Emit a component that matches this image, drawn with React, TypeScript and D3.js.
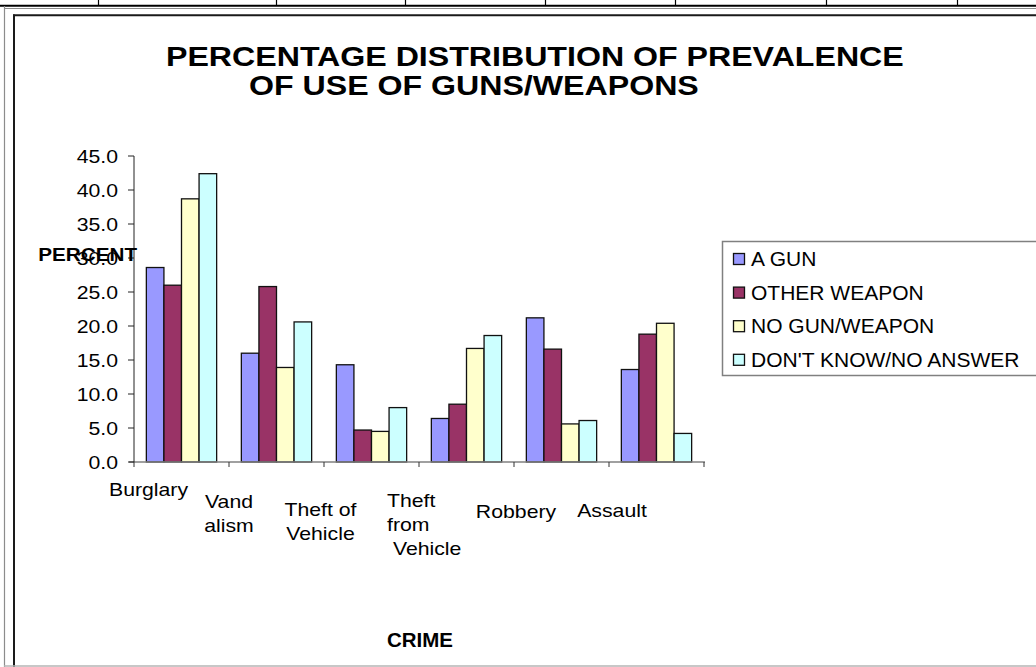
import React from "react";
import * as d3 from "d3";

// Crime categories, each split into the lines shown under the axis
const categories = ["Burglary", "Vandalism", "Theft of Vehicle", "Theft from Vehicle", "Robbery", "Assault"];
const categoryLines = [["Burglary"], ["Vand", "alism"], ["Theft of", "Vehicle"], ["Theft", "from", " Vehicle"], ["Robbery"], ["Assault"]];

// Series (legend order)
const seriesNames = ["A GUN", "OTHER WEAPON", "NO GUN/WEAPON", "DON'T KNOW/NO ANSWER"];
const seriesColors = ["#9999FF", "#993366", "#FFFFCC", "#CCFFFF"];

// Percent values per series, in category order
const aGun = [28.6, 16.0, 14.3, 6.4, 21.2, 13.6];
const otherWeapon = [26.0, 25.8, 4.7, 8.5, 16.6, 18.8];
const noGunWeapon = [38.7, 13.9, 4.5, 16.7, 5.6, 20.4];
const dontKnow = [42.4, 20.6, 8.0, 18.6, 6.1, 4.2];
const seriesValues = [aGun, otherWeapon, noGunWeapon, dontKnow];

const yTicks = [0, 5, 10, 15, 20, 25, 30, 35, 40, 45];

const titleLines = ["PERCENTAGE DISTRIBUTION OF PREVALENCE", "OF USE OF GUNS/WEAPONS"];
const yTitle = "PERCENT";
const xTitle = "CRIME";

// Column dividers of the table row above the chart
const tableDividers = [98, 276, 405, 545, 675, 826, 957];

const FONT = "'Liberation Sans', Arial, Helvetica, sans-serif";
const W = 1036;
const H = 667;

// Plot area
const plot = { left: 134, right: 704, top: 156, bottom: 462 };

// Per-category label placement: anchor, offset from band centre, first baseline
const labelLayout = [
  { anchor: "middle", dx: -33, y: 496 },
  { anchor: "middle", dx: -47.5, y: 508 },
  { anchor: "middle", dx: -51, y: 515.5 },
  { anchor: "start", dx: -79.5, y: 506.5 },
  { anchor: "middle", dx: -45.5, y: 518 },
  { anchor: "middle", dx: -44.5, y: 517 },
];
const LINE_H = 24.3;
const SX = 1.13; // horizontal text stretch of the chart's fonts

function STxt(props: {
  x: number;
  y: number;
  size?: number;
  sx?: number;
  anchor?: string;
  weight?: string;
  children: React.ReactNode;
}) {
  const { x, y, size = 18.8, sx = SX, anchor = "start", weight = "normal", children } = props;
  return (
    <text
      transform={`translate(${x},${y}) scale(${sx},1)`}
      fontSize={size}
      fontFamily={FONT}
      fontWeight={weight}
      textAnchor={anchor as any}
      fill="#000"
      xmlSpace="preserve"
      style={{ whiteSpace: "pre" }}
    >
      {children}
    </text>
  );
}

export default function App() {
  const x0 = d3.scaleBand<string>().domain(categories).range([plot.left, plot.right]).padding(0);
  const bw = x0.bandwidth();
  const inset = bw * 0.13;
  const x1 = d3.scaleBand<string>().domain(seriesNames).range([inset, bw - inset]).padding(0);
  const y = d3.scaleLinear().domain([0, 45]).range([plot.bottom, plot.top]);
  const fmt = d3.format(".1f");

  const catTicks = [...categories.map((c) => x0(c) as number), plot.right];

  return (
    <svg
      width={W}
      height={H}
      style={{ position: "absolute", left: 0, top: 0, display: "block", background: "#fff" }}
    >
      <rect x={0} y={0} width={W} height={H} fill="#fff" />

      {/* table row above the chart */}
      {tableDividers.map((d) => (
        <line key={d} x1={d + 0.5} x2={d + 0.5} y1={0} y2={5} stroke="#000" strokeWidth={1.2} />
      ))}
      <line x1={0} x2={W} y1={5.7} y2={5.7} stroke="#000" strokeWidth={2} />

      {/* outer frames */}
      <line x1={4.5} x2={4.5} y1={6} y2={H} stroke="#8c8c8c" strokeWidth={1.2} />
      <line x1={4} x2={W} y1={8.5} y2={8.5} stroke="#8c8c8c" strokeWidth={1.2} />
      <line x1={14} x2={14} y1={14.5} y2={H} stroke="#1a1a1a" strokeWidth={2} />
      <line x1={13} x2={W} y1={15.3} y2={15.3} stroke="#1a1a1a" strokeWidth={2} />
      <line x1={4} x2={W} y1={666} y2={666} stroke="#b4b4b4" strokeWidth={1.5} />

      {/* title */}
      <STxt x={166} y={66} size={28} sx={1.148} weight="bold">
        {titleLines[0]}
      </STxt>
      <STxt x={249} y={94.5} size={28} sx={1.148} weight="bold">
        {titleLines[1]}
      </STxt>

      {/* bars */}
      {categories.map((c, ci) => (
        <g key={c} transform={`translate(${x0(c)},0)`}>
          {seriesNames.map((s, si) => {
            const v = seriesValues[si][ci];
            return (
              <rect
                key={s}
                x={x1(s)}
                y={y(v)}
                width={x1.bandwidth()}
                height={y(0) - y(v)}
                fill={seriesColors[si]}
                stroke="#111"
                strokeWidth={1.3}
              />
            );
          })}
        </g>
      ))}

      {/* x axis */}
      <line x1={plot.left - 5} x2={plot.right + 1} y1={plot.bottom} y2={plot.bottom} stroke="#808080" strokeWidth={1.3} />
      {catTicks.map((t, i) => (
        <line key={i} x1={t} x2={t} y1={plot.bottom} y2={plot.bottom + 5} stroke="#333" strokeWidth={1} />
      ))}

      {/* y axis */}
      <line x1={plot.left} x2={plot.left} y1={plot.top} y2={plot.bottom} stroke="#222" strokeWidth={1} />
      {yTicks.map((t) => (
        <g key={t}>
          <line x1={plot.left - 6} x2={plot.left} y1={y(t)} y2={y(t)} stroke="#222" strokeWidth={1} />
          <STxt x={118} y={y(t) + 6.8} anchor="end">
            {fmt(t)}
          </STxt>
        </g>
      ))}

      {/* category labels */}
      {categoryLines.map((lines, ci) => {
        const lay = labelLayout[ci];
        const cx = (x0(categories[ci]) as number) + bw / 2 + lay.dx;
        return (
          <g key={ci}>
            {lines.map((ln, li) => (
              <STxt key={li} x={cx} y={lay.y + li * LINE_H} anchor={lay.anchor}>
                {ln}
              </STxt>
            ))}
          </g>
        );
      })}

      {/* axis titles */}
      <STxt x={38.3} y={260.5} weight="bold" sx={1.1}>
        {yTitle}
      </STxt>
      <STxt x={420} y={647} weight="bold" size={19.5} sx={1.05} anchor="middle">
        {xTitle}
      </STxt>

      {/* legend */}
      <rect x={722.5} y={241.5} width={330} height={134} fill="#fff" stroke="#808080" strokeWidth={1.5} />
      {seriesNames.map((s, i) => {
        const base = 266 + i * 33.6;
        return (
          <g key={s}>
            <rect x={733.5} y={base - 12.5} width={11} height={11} fill={seriesColors[i]} stroke="#111" strokeWidth={1.3} />
            <STxt x={751} y={base} size={21} sx={1}>
              {s}
            </STxt>
          </g>
        );
      })}
    </svg>
  );
}
